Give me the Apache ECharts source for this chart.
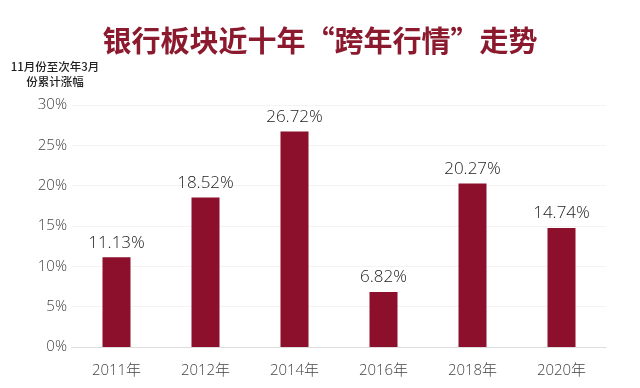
<!DOCTYPE html>
<html><head><meta charset="utf-8">
<script src="https://cdn.jsdelivr.net/npm/echarts@6/dist/echarts.min.js"></script>
<style>html,body{margin:0;padding:0;background:#fff}#c{width:640px;height:388px}</style>
</head><body><div id="c"></div>
<script>
const categories = ['2011年','2012年','2014年','2016年','2018年','2020年'];
const values = [11.13, 18.52, 26.72, 6.82, 20.27, 14.74];
const chart = echarts.init(document.getElementById('c'));
chart.setOption({
  backgroundColor:'#fff',
  animation:false,
  title:{text:'银行板块近十年“跨年行情”走势',left:'center',top:21,
    textStyle:{fontFamily:'Noto Sans CJK SC',fontSize:29,fontWeight:'bold',color:'#8c1a2f'}},
  grid:{left:72,right:34,top:105,bottom:41},
  xAxis:{type:'category',data:categories,
    axisLine:{lineStyle:{color:'#dddddd'}},axisTick:{show:false},
    axisLabel:{color:'#444',fontSize:15,margin:16,fontFamily:'Open Sans, Noto Sans CJK SC',fontWeight:300}},
  yAxis:{type:'value',min:0,max:30,interval:5,
    name:'11月份至次年3月\n份累计涨幅',nameLocation:'end',nameGap:16,
    nameTextStyle:{color:'#222',fontSize:11.5,align:'center',padding:[0,0,0,-34],lineHeight:15,fontFamily:'Noto Sans CJK SC',fontWeight:500},
    axisLabel:{formatter:'{value}%',color:'#444',fontSize:15,margin:5,fontFamily:'Open Sans',fontWeight:300},
    splitLine:{lineStyle:{color:'#f3f3f3'}}},
  series:[{type:'bar',data:values,barWidth:28,
    itemStyle:{color:'#8c0f2b'},
    label:{show:true,position:'top',formatter:p=>p.value.toFixed(2)+'%',color:'#222',fontSize:17,distance:6,fontFamily:'Open Sans',fontWeight:300}}]
});
</script></body></html>
